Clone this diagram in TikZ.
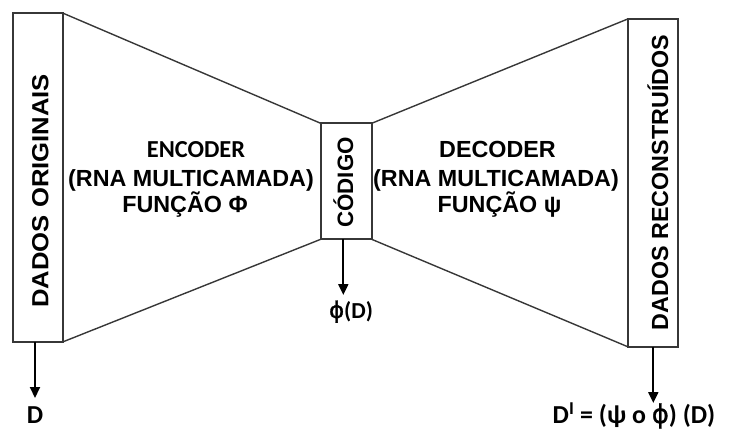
\documentclass[tikz,border=0pt]{standalone}
\usepackage{fontspec}
\setmainfont{Liberation Sans}
\newfontfamily\calib{Carlito}
\newfontfamily\dejavu[FakeBold=1.2]{DejaVu Sans}
\usetikzlibrary{arrows.meta}
\definecolor{boxgray}{RGB}{55,55,55}
\newcommand{\phisym}{{\dejavu\mdseries ϕ}}
\begin{document}
\begin{tikzpicture}[x=1bp,y=-1bp,
  blockbox/.style={draw=boxgray,line width=2bp,inner sep=0pt,outer sep=0pt,fill=white},
  link/.style={draw=boxgray,line width=1.4bp},
  outarrow/.style={draw=black,line width=2bp,-{Triangle[length=11bp,width=10bp]}},
  arialtxt/.style={font=\fontsize{23.4}{28}\selectfont\bfseries,inner sep=0pt,anchor=base},
  calibtxt/.style={font=\fontsize{25}{30}\selectfont\calib\bfseries,inner sep=0pt,anchor=base},
  vtxt/.style={arialtxt,rotate=90}]
\useasboundingbox (0,0) rectangle (729,429);
% boxes
\node[blockbox,minimum width=50.6bp,minimum height=328.4bp] (L) at (38,177.5) {};
\node[blockbox,minimum width=51bp,minimum height=116bp] (C) at (346.2,181.3) {};
\node[blockbox,minimum width=50bp,minimum height=327.7bp] (R) at (652.7,182.85) {};
% trapezoid connectors
\draw[link] (L.north east) -- (C.north west);
\draw[link] (L.south east) -- (C.south west);
\draw[link] (C.north east) -- (R.north west);
\draw[link] (C.south east) -- (R.south west);
% vertical texts
\node[vtxt] (tL) at (48.3,190.8) {\scalebox{1.1}[1]{DADOS ORIGINAIS}};
\node[vtxt,font=\fontsize{22.4}{27}\selectfont\bfseries] (tC) at (353,182.5) {CÓDIGO};
\node[vtxt] (tR) at (668,182.5) {DADOS RECONSTRUÍDOS};
% encoder text
\node[calibtxt,font=\fontsize{24.5}{30}\selectfont\calib\bfseries] (enc1) at (196,157) {ENCODER};
\node[arialtxt] (enc2) at (191,186) {(RNA MULTICAMADA)};
\node[arialtxt] (enc3) at (185,212) {FUNÇÃO Φ};
% decoder text
\node[arialtxt] (dec1) at (497.5,157) {DECODER};
\node[arialtxt] (dec2) at (496,186) {(RNA MULTICAMADA)};
\node[arialtxt] (dec3) at (499.5,212) {FUNÇÃO ψ};
% outputs
\coordinate (tipL) at (35,398);
\coordinate (tipC) at (343.3,295);
\coordinate (tipR) at (653.3,403);
\draw[outarrow] (tipL |- L.south) -- (tipL);
\draw[outarrow] (tipC |- C.south) -- (tipC);
\draw[outarrow] (tipR |- R.south) -- (tipR);
\node[calibtxt,font=\fontsize{26}{30}\selectfont\calib\bfseries] (oL) at (35,423) {D};
\node[calibtxt,font=\fontsize{23}{28}\selectfont\calib\bfseries] (oC) at (351,318) {\phisym(D)};
\node[calibtxt,font=\fontsize{26}{30}\selectfont\calib\bfseries] (oR) at (634,423) {D\textsuperscript{I} = (ψ o \phisym) (D)};
\end{tikzpicture}
\end{document}
